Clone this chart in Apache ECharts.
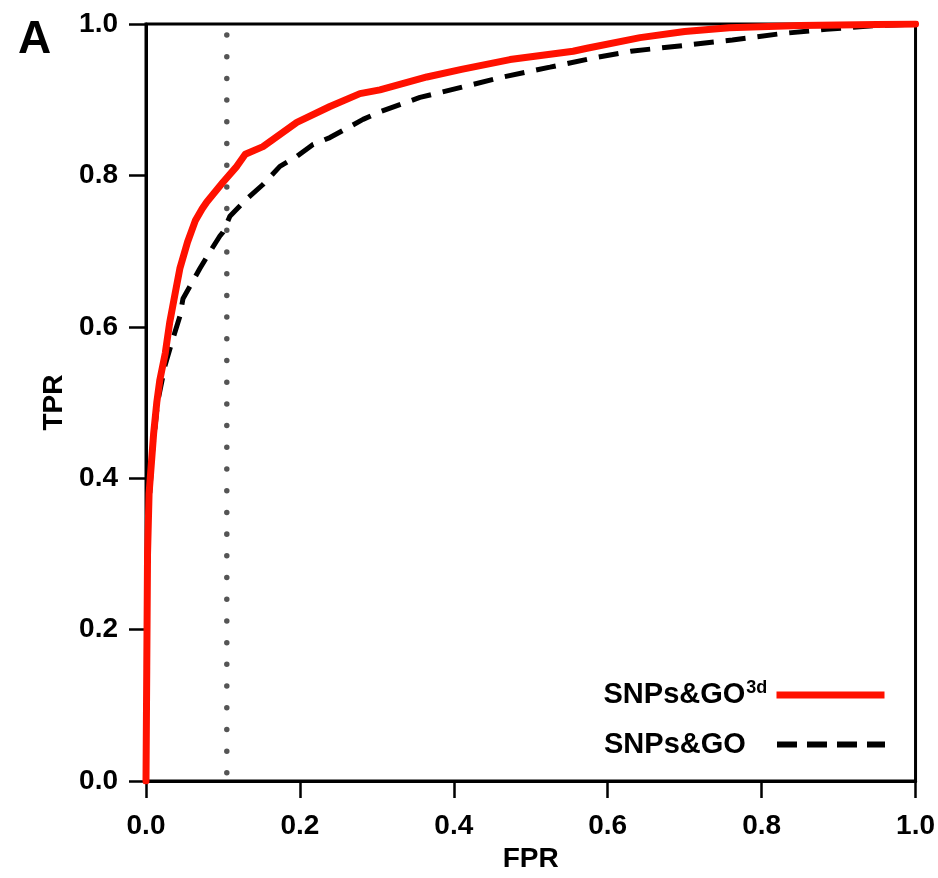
<!DOCTYPE html>
<html>
<head>
<meta charset="utf-8">
<script src="https://cdn.jsdelivr.net/npm/echarts@6/dist/echarts.min.js"></script>
<style>
html,body{margin:0;padding:0;background:#fff;}
#chart{width:938px;height:878px;}
</style>
</head>
<body>
<div id="chart"></div>
<script>
// SNPs&GO3d ROC curve (red, solid)
const fpr3d = [0, 0.001, 0.002, 0.004, 0.007, 0.010, 0.014, 0.018, 0.025, 0.031, 0.038, 0.044, 0.054, 0.064, 0.073, 0.079, 0.100, 0.118, 0.129, 0.152, 0.196, 0.239, 0.278, 0.304, 0.365, 0.410, 0.473, 0.555, 0.573, 0.642, 0.700, 0.758, 0.850, 1.0];
const tpr3d = [0, 0.15, 0.30, 0.38, 0.42, 0.46, 0.50, 0.53, 0.565, 0.607, 0.645, 0.677, 0.712, 0.740, 0.756, 0.765, 0.791, 0.812, 0.828, 0.838, 0.870, 0.891, 0.908, 0.913, 0.930, 0.940, 0.953, 0.964, 0.968, 0.982, 0.990, 0.995, 0.998, 1.0];
// SNPs&GO ROC curve (black, dashed)
const fprGO = [0, 0.001, 0.003, 0.008, 0.015, 0.025, 0.034, 0.044, 0.048, 0.070, 0.083, 0.096, 0.100, 0.109, 0.131, 0.152, 0.174, 0.196, 0.217, 0.239, 0.282, 0.304, 0.356, 0.408, 0.464, 0.525, 0.581, 0.630, 0.702, 0.762, 0.823, 0.884, 0.950, 1.0];
const tprGO = [0, 0.20, 0.35, 0.43, 0.50, 0.55, 0.581, 0.614, 0.637, 0.677, 0.699, 0.720, 0.725, 0.746, 0.769, 0.788, 0.812, 0.825, 0.841, 0.850, 0.874, 0.884, 0.903, 0.916, 0.930, 0.943, 0.955, 0.964, 0.972, 0.979, 0.987, 0.993, 0.998, 1.0];
// Threshold (vertical dotted line) at FPR
const thresholdFPR = 0.105;
const seriesNames = ['SNPs&GO3d', 'SNPs&GO'];

const zip = (a, b) => a.map((v, i) => [v, b[i]]);
const font = '"Liberation Sans", Arial, Helvetica, sans-serif';

const chart = echarts.init(document.getElementById('chart'), null, {renderer: 'canvas'});
function legendText() {
  return {
    fontFamily: font, fontWeight: 'bold', fontSize: 29, color: '#000',
    width: 168,
    rich: {
      a: {fontFamily: font, fontWeight: 'bold', fontSize: 29, color: '#000', align: 'left'},
      b: {fontFamily: font, fontWeight: 'bold', fontSize: 18, color: '#000', align: 'left', verticalAlign: 'top', padding: [0, 0, 14, 1]}
    }
  };
}
chart.setOption({
  animation: false,
  backgroundColor: '#fff',
  title: {
    text: 'A', left: 13, top: 12,
    textStyle: {fontFamily: font, fontWeight: 'bold', fontSize: 46, color: '#000'}
  },
  grid: {
    left: 146, right: 21, top: 24, bottom: 93,
    show: true, borderColor: '#000', borderWidth: 3, backgroundColor: 'transparent'
  },
  legend: [
    {
      data: [seriesNames[0]], right: 45, top: 674, align: 'right', orient: 'vertical',
      itemWidth: 108, itemHeight: 1,
      lineStyle: {width: 7, color: '#ff1100', type: 'solid', cap: 'butt'},
      itemStyle: {opacity: 0},
      textStyle: legendText(),
      formatter: () => '{a|SNPs&GO}{b|3d}'
    },
    {
      data: [seriesNames[1]], right: 45, top: 725, align: 'right', orient: 'vertical',
      itemWidth: 108, itemHeight: 1,
      lineStyle: {width: 6, color: '#000', type: [20, 10], cap: 'butt'},
      itemStyle: {opacity: 0},
      textStyle: legendText(),
      formatter: (n) => '{a|' + n + '}'
    }
  ],
  xAxis: {
    type: 'value', min: 0, max: 1, interval: 0.2,
    name: 'FPR', nameLocation: 'middle', nameGap: 61,
    nameTextStyle: {fontFamily: font, fontWeight: 'bold', fontSize: 28, color: '#000'},
    axisLine: {show: true, lineStyle: {color: '#000', width: 3}},
    axisTick: {show: true, inside: false, length: 17, lineStyle: {color: '#000', width: 2.5}},
    axisLabel: {
      margin: 31, fontFamily: font, fontWeight: 'bold', fontSize: 28, color: '#000',
      formatter: (v) => v.toFixed(1)
    },
    splitLine: {show: false}
  },
  yAxis: {
    type: 'value', min: 0, max: 1, interval: 0.2,
    name: 'TPR', nameLocation: 'middle', nameGap: 77, nameRotate: 90,
    nameTextStyle: {fontFamily: font, fontWeight: 'bold', fontSize: 28, color: '#000'},
    axisLine: {show: true, lineStyle: {color: '#000', width: 3}},
    axisTick: {show: true, inside: false, length: 17, lineStyle: {color: '#000', width: 2.5}},
    axisLabel: {
      margin: 28, fontFamily: font, fontWeight: 'bold', fontSize: 28, color: '#000',
      formatter: (v) => v.toFixed(1)
    },
    splitLine: {show: false}
  },
  series: [
    {
      name: 'threshold', type: 'line', data: [[thresholdFPR, 1], [thresholdFPR, 0]],
      showSymbol: false, symbol: 'none', silent: true, z: 1,
      lineStyle: {color: '#555', width: 5.5, type: [0.001, 21.7], dashOffset: 10.7, cap: 'round'}
    },
    {
      name: seriesNames[1], type: 'line', data: zip(fprGO, tprGO),
      showSymbol: false, symbol: 'none', smooth: false, z: 2,
      lineStyle: {color: '#000', width: 5, type: [20, 12]},
      itemStyle: {color: '#000'}
    },
    {
      name: seriesNames[0], type: 'line', data: zip(fpr3d, tpr3d),
      showSymbol: false, symbol: 'none', smooth: false, z: 3,
      lineStyle: {color: '#ff1100', width: 7, join: 'round', cap: 'round'},
      itemStyle: {color: '#ff1100'}
    }
  ]
});
</script>
</body>
</html>
